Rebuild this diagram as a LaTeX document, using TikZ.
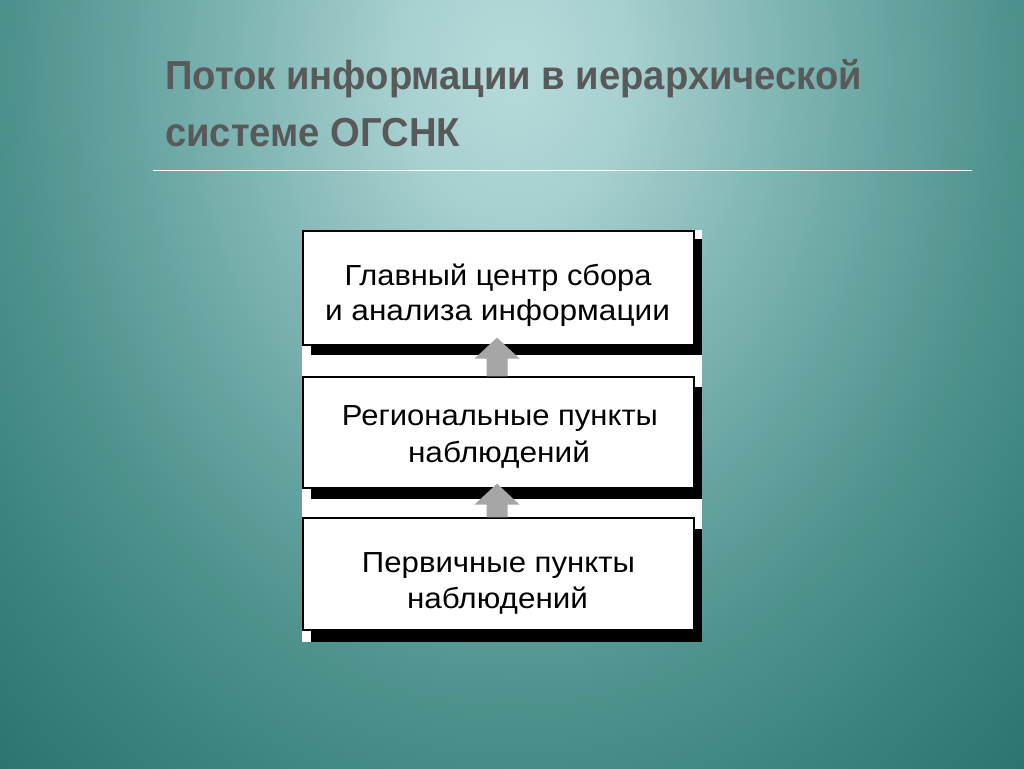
\documentclass[tikz,border=0pt]{standalone}
\usepackage{fontspec}
\setmainfont{Liberation Sans}
\usetikzlibrary{calc}
\definecolor{bg0}{HTML}{B6DADA}
\definecolor{bg1}{HTML}{A8D0D0}
\definecolor{bg2}{HTML}{80B6B4}
\definecolor{bg3}{HTML}{67A4A1}
\definecolor{bg4}{HTML}{50938E}
\definecolor{bg5}{HTML}{3D8680}
\definecolor{bg6}{HTML}{276F68}
\definecolor{bg7}{HTML}{1F6860}
\definecolor{titlegray}{HTML}{595959}
\definecolor{arrgray}{HTML}{A6A6A6}
\pgfdeclareradialshading{bgshade}{\pgfpoint{0bp}{0bp}}{color(0bp)=(bg0); color(3.4bp)=(bg1); color(8bp)=(bg2); color(11.4bp)=(bg3); color(14.8bp)=(bg4); color(18.2bp)=(bg5); color(24bp)=(bg6); color(28.5bp)=(bg7); color(50bp)=(bg7)}
\newsavebox\titlelineA
\newcommand\fitw[2]{\resizebox{#1}{\height}{#2}}
\newcommand\blockarrow[2]{%
  \fill[arrgray] ($(#1)+(-10.5,0)$) -- ($(#2)+(-10.5,21)$) -- ($(#2)+(-22.5,21)$) -- (#2)
    -- ($(#2)+(22.5,21)$) -- ($(#2)+(10.5,21)$) -- ($(#1)+(10.5,0)$) -- cycle;}
\begin{document}
\sbox\titlelineA{\color{titlegray}\fontsize{40.5pt}{48pt}\selectfont\bfseries Поток информации в иерархической}%
\pgfmathsetmacro\tsx{697/\the\wd\titlelineA}%
\begin{tikzpicture}[x=1pt,y=-1pt,
  boxnode/.style={draw=black, line width=1.2pt, fill=white, minimum width=391pt, inner sep=0pt},
  shadownode/.style={fill=black, minimum width=391pt, inner sep=0pt},
  txt/.style={anchor=base, inner sep=0pt, font=\fontsize{29pt}{35pt}\selectfont},
  ttl/.style={anchor=base west, inner sep=0pt, text=titlegray}]
\useasboundingbox (0,0) rectangle (1024,768);
\clip (0,0) rectangle (1024,768);
\fill[bg7] (0,0) rectangle (1024,768);
\shade[shading=bgshade] (512,70) ellipse [x radius=830, y radius=1050];
% title
\node[ttl] (t1) at (165,89) {\scalebox{\tsx}[1]{\usebox\titlelineA}};
\node[ttl] (t2) at (165,146) {\scalebox{\tsx}[1]{\fontsize{40.5pt}{48pt}\selectfont\bfseries системе ОГСНК}};
\coordinate (hl1) at (153,170.5);
\coordinate (hl2) at (972,170.5);
\draw[white!95!bg1, line width=1.8pt] (hl1) -- (hl2);
% white panel
\fill[white] (302,230) rectangle (702,642);
% shadows
\node[shadownode, minimum height=116pt] (s1) at (506,297) {};
\node[shadownode, minimum height=112pt] (s2) at (506,443) {};
\node[shadownode, minimum height=113pt] (s3) at (506,585.5) {};
% boxes
\node[boxnode, minimum height=114pt] (b1) at (498.5,288) {};
\node[boxnode, minimum height=111pt] (b2) at (498.5,432.5) {};
\node[boxnode, minimum height=112pt] (b3) at (498.5,574) {};
% texts
\node[txt] (l11) at (498,285) {\fitw{307pt}{Главный центр сбора}};
\node[txt] (l12) at (497.5,320) {\fitw{345pt}{и анализа информации}};
\node[txt] (l21) at (500,425) {\fitw{316pt}{Региональные пункты}};
\node[txt] (l22) at (499,462) {\fitw{182pt}{наблюдений}};
\node[txt] (l31) at (498.5,572) {\fitw{273pt}{Первичные пункты}};
\node[txt] (l32) at (497.5,608) {\fitw{181pt}{наблюдений}};
% arrows
\coordinate (a1t) at ($(b1.south)+(-1.5,-8)$);
\coordinate (a1s) at ($(b2.north)+(-1.5,0)$);
\coordinate (a2t) at ($(b2.south)+(-1.5,-5)$);
\coordinate (a2s) at ($(b3.north)+(-1.5,0)$);
\blockarrow{a1s}{a1t}
\blockarrow{a2s}{a2t}
\end{tikzpicture}
\end{document}
